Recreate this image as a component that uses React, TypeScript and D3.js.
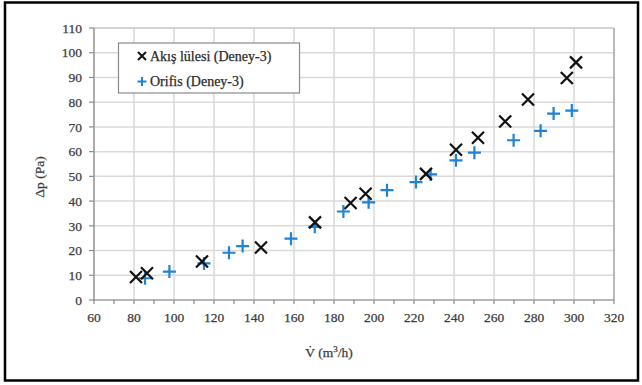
import React from "react";
import * as d3 from "d3";

const nozzleX = [81, 86.5, 114, 143.5, 170.5, 188.3, 195.8, 226, 241, 252, 265.6, 277, 296.4, 301];
const nozzleY = [9.3, 10.8, 15.6, 21.2, 31.4, 39.2, 43, 51, 60.8, 65.6, 72.2, 81.1, 89.8, 96.1];
const orificeX = [85.5, 97.7, 115, 127.5, 134.3, 158.5, 170.4, 184.7, 197.3, 206.5, 221, 228.3, 241, 250.2, 269.8, 283.3, 289.8, 298.9];
const orificeY = [8.8, 11.5, 14.8, 19.1, 21.8, 24.8, 29.6, 35.8, 39.5, 44.4, 47.7, 50.8, 56.5, 59.6, 64.6, 68.4, 75.4, 76.6];
const xTicks = [60, 80, 100, 120, 140, 160, 180, 200, 220, 240, 260, 280, 300, 320];
const xMinorTicks = d3.range(60, 321, 10);
const yTicks = [0, 10, 20, 30, 40, 50, 60, 70, 80, 90, 100, 110];
const legendLabels = ["Akış lülesi (Deney-3)", "Orifis (Deney-3)"];
const yTitle = "Δp (Pa)";

const FONT = "'Liberation Serif', 'DejaVu Serif', serif";
const BLUE = "#1f82d2";
const TXT = "#3c3c3c";

export default function App() {
  const x = d3.scaleLinear().domain([60, 320]).range([94, 614]);
  const y = d3.scaleLinear().domain([0, 110]).range([300, 28]);
  const xs = 6;
  const ps = 6.5;
  const cross = (cx: number, cy: number, s: number, sw: number, key: string) => (
    <path key={key} d={`M${cx - s},${cy - s}L${cx + s},${cy + s}M${cx - s},${cy + s}L${cx + s},${cy - s}`} stroke="#111" strokeWidth={sw} fill="none" />
  );
  const plus = (cx: number, cy: number, s: number, sw: number, key: string) => (
    <path key={key} d={`M${cx - s},${cy}L${cx + s},${cy}M${cx},${cy - s}L${cx},${cy + s}`} stroke={BLUE} strokeWidth={sw} fill="none" />
  );
  return (
    <svg width={642} height={385} style={{ position: "absolute", left: 0, top: 0 }} fontFamily={FONT}>
      <rect x={0} y={0} width={642} height={385} fill="#fff" />
      <rect x={5} y={2.5} width={633} height={378} fill="none" stroke="#000" strokeWidth={2.5} />
      {/* gridlines */}
      {yTicks.map((t) => (
        <line key={"gy" + t} x1={x(60)} x2={x(320)} y1={y(t)} y2={y(t)} stroke="#d9d9d9" strokeWidth={1.5} />
      ))}
      {xTicks.map((t) => (
        <line key={"gx" + t} x1={x(t)} x2={x(t)} y1={y(0)} y2={y(110)} stroke="#d9d9d9" strokeWidth={1.5} />
      ))}
      <line x1={x(60)} x2={x(320)} y1={y(110)} y2={y(110)} stroke="#c4c4c4" strokeWidth={1} />
      <line x1={x(320)} x2={x(320)} y1={y(0)} y2={y(110)} stroke="#a0a0a0" strokeWidth={1.2} />
      {/* axes */}
      <line x1={x(60)} x2={x(60)} y1={y(0)} y2={y(110)} stroke="#8a8a8a" strokeWidth={1.2} />
      <line x1={x(60)} x2={x(320)} y1={y(0)} y2={y(0)} stroke="#8a8a8a" strokeWidth={1.2} />
      {yTicks.map((t) => (
        <g key={"yt" + t}>
          <line x1={x(60) - 5} x2={x(60)} y1={y(t)} y2={y(t)} stroke="#8a8a8a" strokeWidth={1.2} />
          <text x={82} y={y(t)} dy="0.35em" textAnchor="end" fontSize={13.5} fill={TXT} stroke={TXT} strokeWidth={0.25}>{t}</text>
        </g>
      ))}
      {xMinorTicks.map((t) => (
        <line key={"xm" + t} x1={x(t)} x2={x(t)} y1={y(0)} y2={y(0) + 4} stroke="#8a8a8a" strokeWidth={1.2} />
      ))}
      {xTicks.map((t) => (
        <text key={"xt" + t} x={x(t)} y={322} textAnchor="middle" fontSize={13.5} fill={TXT} stroke={TXT} strokeWidth={0.25}>{t}</text>
      ))}
      {/* axis titles */}
      <text transform={`translate(44,177) rotate(-90)`} textAnchor="middle" fontSize={13.5} fill={TXT} stroke={TXT} strokeWidth={0.25}>{yTitle}</text>
      <text x={329} y={357} textAnchor="middle" fontSize={13.5} fill={TXT} stroke={TXT} strokeWidth={0.25}>
        <tspan>V̇ (m</tspan><tspan fontSize={9} dy={-5}>3</tspan><tspan dy={5}>/h)</tspan>
      </text>
      {/* data */}
      {orificeX.map((v, i) => plus(x(v), y(orificeY[i]), ps, 2.2, "o" + i))}
      {nozzleX.map((v, i) => cross(x(v), y(nozzleY[i]), xs, 2.2, "n" + i))}
      {/* legend */}
      <rect x={118.5} y={43} width={181} height={50} fill="#fff" stroke="#8a8a8a" strokeWidth={1.2} />
      {cross(142, 56, 4, 2, "lx")}
      <text x={150} y={60.5} fontSize={14} fill="#2a2a2a" stroke="#2a2a2a" strokeWidth={0.25}>{legendLabels[0]}</text>
      {plus(142, 81.5, 4.5, 2, "lp")}
      <text x={150} y={86} fontSize={14} fill="#2a2a2a" stroke="#2a2a2a" strokeWidth={0.25}>{legendLabels[1]}</text>
    </svg>
  );
}
